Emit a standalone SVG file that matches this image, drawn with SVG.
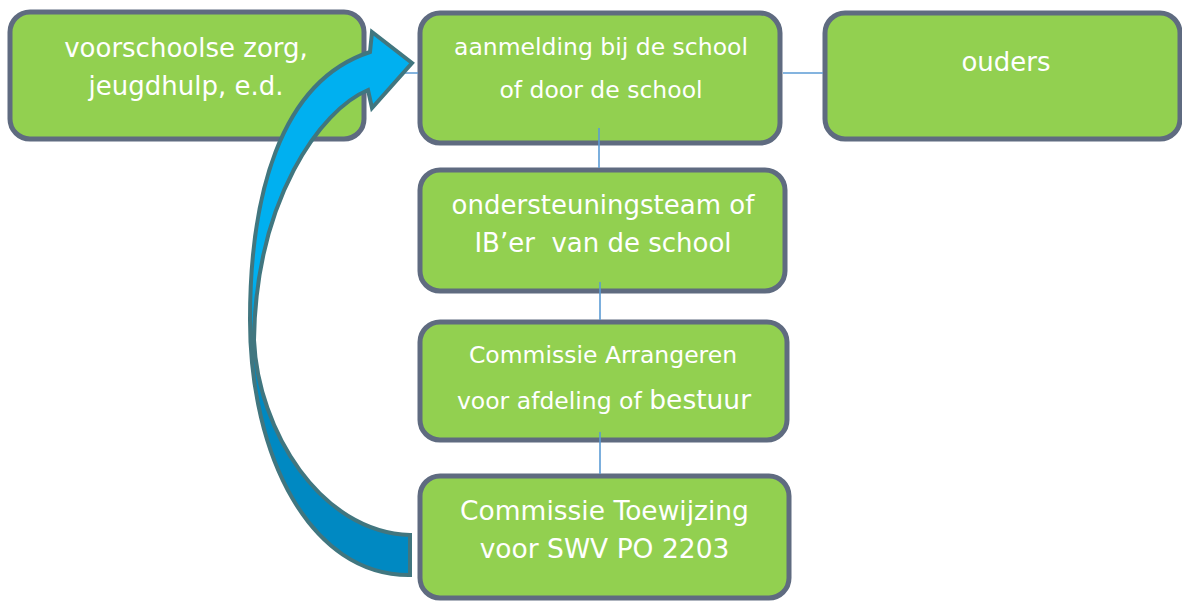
<svg xmlns="http://www.w3.org/2000/svg" width="1182" height="602" viewBox="0 0 1182 602">
<defs>
<style>
.box{fill:#92d050;stroke:#5f6b80;stroke-width:5}
.t{font-family:"DejaVu Sans","Verdana",sans-serif;fill:#ffffff;text-anchor:middle}
.conn{stroke:#5b9bd5;stroke-width:1.6;fill:none}
</style>
<linearGradient id="arrowGrad" x1="0" y1="30" x2="0" y2="580" gradientUnits="userSpaceOnUse">
<stop offset="0" stop-color="#00b0f0"/>
<stop offset="0.45" stop-color="#00b0f0"/>
<stop offset="0.6" stop-color="#0089c2"/>
<stop offset="1" stop-color="#0089c2"/>
</linearGradient>
</defs>
<rect width="1182" height="602" fill="#ffffff"/>
<g id="node-voorschoolse">
<rect class="box" x="10" y="12" width="354" height="127" rx="20"/>
<text class="t" font-size="26" x="186" y="57">voorschoolse zorg,</text>
<text class="t" font-size="26" x="186" y="95">jeugdhulp, e.d.</text>
</g>
<g id="node-aanmelding">
<rect class="box" x="420" y="13" width="360" height="130" rx="20"/>
<text class="t" font-size="23.5" x="601" y="55">aanmelding bij de school</text>
<text class="t" font-size="23.5" x="601" y="98">of door de school</text>
</g>
<g id="node-ouders">
<rect class="box" x="825" y="13" width="355" height="126" rx="20"/>
<text class="t" font-size="26" x="1006" y="71">ouders</text>
</g>
<g id="node-ondersteuningsteam">
<rect class="box" x="420" y="170" width="365" height="121" rx="20"/>
<text class="t" font-size="26" x="603" y="214">ondersteuningsteam of</text>
<text class="t" font-size="26" x="603" y="252" xml:space="preserve">IB’er  van de school</text>
</g>
<g id="node-arrangeren">
<rect class="box" x="420" y="322" width="367" height="118" rx="20"/>
<text class="t" font-size="23.5" x="603" y="363">Commissie Arrangeren</text>
<text class="t" font-size="23.5" x="604" y="409">voor afdeling of <tspan font-size="26.5">bestuur</tspan></text>
</g>
<g id="node-toewijzing">
<rect class="box" x="420" y="476" width="369" height="122" rx="20"/>
<text class="t" font-size="26.5" x="604.5" y="520">Commissie Toewijzing</text>
<text class="t" font-size="26.5" x="604.5" y="558">voor SWV PO 2203</text>
</g>
<g id="connectors">
<line class="conn" x1="366" y1="73" x2="418" y2="73"/>
<line class="conn" x1="783" y1="73" x2="823" y2="73"/>
<line class="conn" x1="599" y1="128" x2="599" y2="168"/>
<line class="conn" x1="600" y1="282" x2="600" y2="320"/>
<line class="conn" x1="600" y1="432" x2="600" y2="474"/>
</g>
<g id="curved-arrow">
<path d="M 410,575 C 310,576 250,455 250,320 C 250,200 278,82 370,52 L 372,32 L 412,63 L 372,108 L 368,90 C 320,110 256,200 254,340 C 258,430 320,532 410,535 Z" fill="url(#arrowGrad)" stroke="#41767f" stroke-width="4" stroke-linejoin="miter"/>
</g>
</svg>
